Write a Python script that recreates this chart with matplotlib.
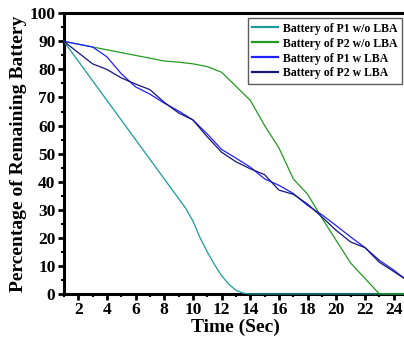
import numpy as np
import matplotlib
matplotlib.use('Agg')
import matplotlib.pyplot as plt
from matplotlib.ticker import MultipleLocator

time = list(range(1, 26))
# P1 without LBA has extra half-step readings where the curve bends
time_p1_without = [1, 2, 3, 4, 5, 6, 7, 8, 9, 9.5, 10, 10.5, 11, 11.5, 12,
                   12.5, 13, 13.5, 14, 25]
p1_without = [90, 83, 76, 69, 62, 55, 48, 41, 34, 30.5, 26, 20, 15, 10.5, 6.5,
              3.5, 1.3, 0.3, 0, 0]
p2_without = [90, 89, 88, 87, 86, 85, 84, 83, 82.6, 82, 81, 79, 74, 69,
              60, 52, 41, 35.5, 27, 19, 11, 5.5, 0, 0, 0]
p1_with = [90, 89, 88, 84.5, 78.5, 73.8, 71.2, 68, 65.2, 62, 57, 51.5, 48.4,
           45.2, 41, 38.7, 35.8, 31.5, 28.2, 24.3, 20.3, 16.5, 12, 8.5, 4.5]
p2_with = [90, 86, 82, 80, 77, 74.8, 72.8, 68.3, 64.5, 62, 56, 50.5, 47.1,
           44.6, 42.5, 37, 35.5, 32, 27.4, 22.6, 18.5, 16.5, 11.3, 8, 4.6]

labels = ['Battery of P1 w/o LBA', 'Battery of P2 w/o LBA',
          'Battery of P1 w LBA', 'Battery of P2 w LBA']
colors = ['#1a9a9a', '#229a22', '#2020ff', '#15157a']

plt.rcParams['font.family'] = 'Liberation Serif'
plt.rcParams['font.weight'] = 'bold'

fig = plt.figure(figsize=(4.04, 3.41), dpi=100)
ax = fig.add_axes([0.158, 0.138, 0.852, 0.823])

xs = [time_p1_without, time, time, time]
for x, series, lab, col in zip(xs, [p1_without, p2_without, p1_with, p2_with], labels, colors):
    ax.plot(x, series, color=col, linewidth=0.9, label=lab, clip_on=False, zorder=3)

ax.set_xlim(1, 25)
ax.set_ylim(0, 100)
ax.xaxis.set_major_locator(MultipleLocator(2))
ax.xaxis.set_minor_locator(MultipleLocator(1))
ax.yaxis.set_major_locator(MultipleLocator(10))
ax.yaxis.set_minor_locator(MultipleLocator(5))
ax.set_xticks(range(2, 26, 2))

for side in ['left', 'bottom', 'top']:
    ax.spines[side].set_linewidth(2.2)
    ax.spines[side].set_zorder(2)
ax.spines['right'].set_visible(False)

ax.tick_params(which='major', direction='out', length=4, width=2, labelsize=12.5, pad=2)
ax.tick_params(which='minor', direction='out', length=2.5, width=1.5)
for lbl in ax.get_xticklabels() + ax.get_yticklabels():
    lbl.set_fontweight('bold')

ax.set_xlabel('Time (Sec)', fontsize=14, fontweight='bold', labelpad=0)
ax.set_ylabel('Percentage of Remaining Battery', fontsize=14, fontweight='bold', labelpad=2)

leg = ax.legend(loc='upper right', bbox_to_anchor=(0.988, 0.99),
                frameon=True, fancybox=False, edgecolor='#333333',
                handlelength=2.2, handletextpad=0.4, borderpad=0.35,
                labelspacing=0.25, borderaxespad=0.2,
                prop={'weight': 'bold', 'size': 8.5})
leg.get_frame().set_linewidth(1.0)
leg.set_zorder(5)
for line in leg.get_lines():
    line.set_linewidth(1.6)

fig.savefig('out.png', dpi=100)
